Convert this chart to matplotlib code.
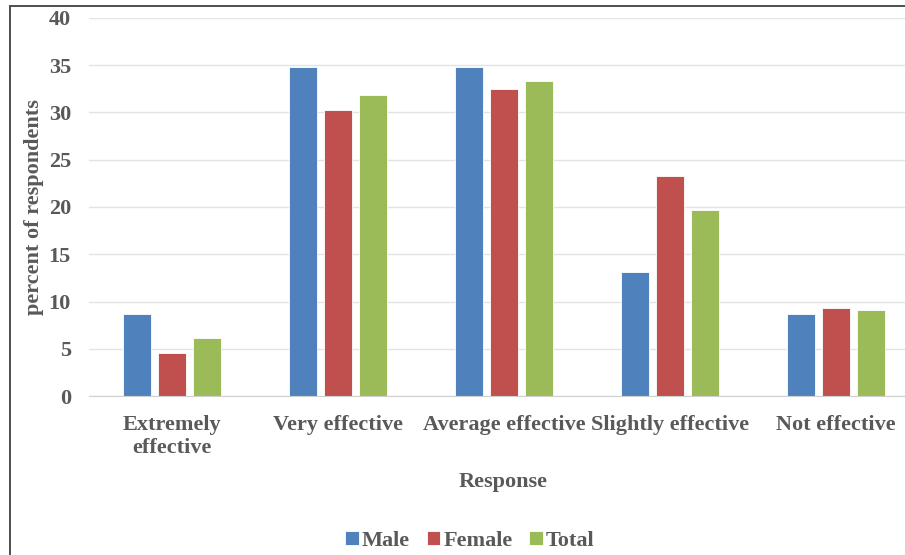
import matplotlib
matplotlib.use("Agg")
import matplotlib.pyplot as plt
import numpy as np
from matplotlib.patches import Rectangle

categories = ["Extremely\neffective", "Very effective", "Average effective",
              "Slightly effective", "Not effective"]
male = [8.7, 34.8, 34.8, 13.1, 8.7]
female = [4.6, 30.3, 32.5, 23.3, 9.3]
total = [6.1, 31.85, 33.3, 19.7, 9.05]
series_names = ["Male", "Female", "Total"]
colors = ["#4f81bd", "#c0504d", "#9bbb59"]
y_ticks = [0, 5, 10, 15, 20, 25, 30, 35, 40]

TEXT = "#595959"
FONT = "Liberation Serif"
FS = 16

fig = plt.figure(figsize=(9.05, 5.55), dpi=100, facecolor="white")

# outer chart frame (only top and left edges fall inside the image)
fig.add_artist(Rectangle((9.5 / 905, -0.1), 1.2, (555 - 5.5) / 555 + 0.1,
                         transform=fig.transFigure, fill=False,
                         edgecolor="#404040", linewidth=1.3))

ax = fig.add_axes((89 / 905, (555 - 396) / 555, 830 / 905, 378 / 555))
x = np.arange(len(categories))
width = 0.166
step = 0.211
for i, (vals, name, c) in enumerate(zip([male, female, total], series_names, colors)):
    ax.bar(x + (i - 1) * step, vals, width, color=c, label=name,
           edgecolor="white", linewidth=0.6, zorder=3)

ax.set_xlim(-0.5, len(categories) - 0.5)
ax.set_ylim(0, 40)
ax.set_yticks(y_ticks)
ax.set_xticks(x)
ax.set_xticklabels(categories, linespacing=1.2)
ax.grid(axis="y", color="#e3e3e3", linewidth=1.0, zorder=0)
ax.tick_params(length=0, labelsize=FS, labelcolor=TEXT)
ax.tick_params(axis="y", pad=13)
ax.tick_params(axis="x", pad=14)
for lbl in ax.get_xticklabels() + ax.get_yticklabels():
    lbl.set_fontfamily(FONT)
    lbl.set_fontweight("bold")
for side in ["top", "right", "left"]:
    ax.spines[side].set_visible(False)
ax.spines["bottom"].set_color("#d0d0d0")
ax.spines["bottom"].set_zorder(4)

ax.set_xlabel("Response", fontsize=FS, fontweight="bold", color=TEXT,
              fontfamily=FONT)
ax.set_ylabel("percent of respondents", fontsize=FS, fontweight="bold",
              color=TEXT, fontfamily=FONT)
ax.xaxis.set_label_coords((503 - 89) / 830, -(472 - 396) / 378)
ax.yaxis.set_label_coords(-(89 - 44) / 830, 0.5)

leg = fig.legend(loc="center", bbox_to_anchor=(470 / 905, (555 - 541) / 555),
                 ncol=3, frameon=False, handlelength=0.6, handleheight=0.6,
                 handletextpad=0.15, columnspacing=0.75,
                 prop={"family": FONT, "weight": "bold", "size": FS})
for t in leg.get_texts():
    t.set_color(TEXT)

fig.savefig("out.png", dpi=100, facecolor="white")
